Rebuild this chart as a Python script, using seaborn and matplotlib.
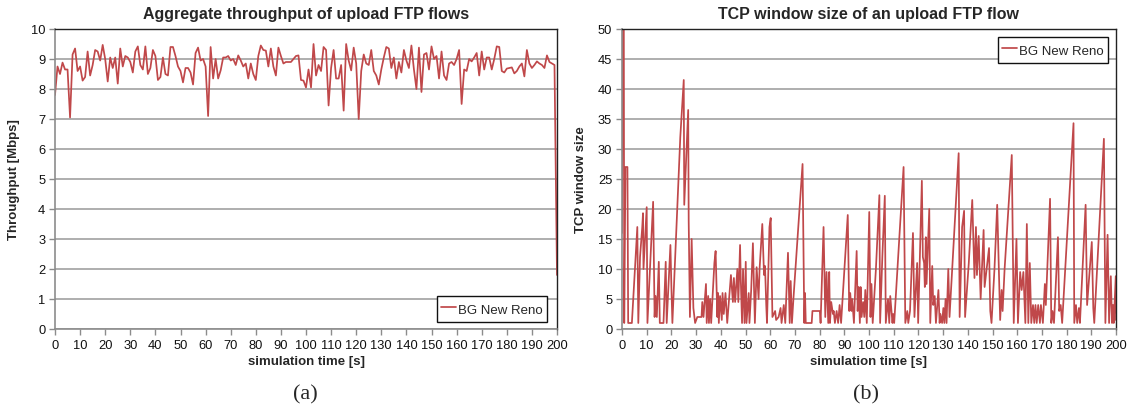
import numpy as np
import pandas as pd
import matplotlib
matplotlib.use("Agg")
import matplotlib.pyplot as plt
import seaborn as sns

# ---------------- data ----------------
series_name = "BG New Reno"

thr_time = list(range(0, 201))
thr_values = [
    7.8, 8.75, 8.5, 8.88, 8.65, 8.65, 7.05, 9.15, 9.35, 8.6,
    8.75, 8.28, 8.4, 9.25, 8.45, 8.8, 9.3, 9.25, 8.95, 9.47,
    9.0, 8.25, 9.05, 8.7, 9.05, 8.18, 9.35, 8.75, 9.1, 9.05,
    8.9, 8.55, 9.25, 9.42, 8.8, 8.65, 9.42, 8.5, 8.7, 9.3,
    9.1, 8.3, 8.4, 9.05, 8.5, 8.45, 9.4, 9.4, 9.1, 8.75,
    8.6, 8.22, 8.7, 8.7, 8.55, 8.15, 9.2, 9.38, 8.95, 9.0,
    8.75, 7.1, 9.4, 8.35, 9.0, 8.35, 8.62, 9.05, 9.05, 9.1,
    8.95, 9.0, 8.8, 9.12, 8.95, 8.75, 8.85, 8.35, 8.85, 8.5,
    8.3, 9.1, 9.45, 9.3, 9.28, 8.75, 9.35, 8.75, 8.45, 9.38,
    9.1, 8.85, 8.9, 8.9, 8.9, 9.0, 9.1, 9.12, 8.3, 8.28,
    8.05, 8.65, 8.05, 9.5, 8.45, 8.8, 8.6, 9.4, 9.3, 7.45,
    8.7, 9.3, 8.35, 8.35, 8.8, 7.28, 9.5, 8.95, 8.62, 9.38,
    8.85, 7.0, 8.6, 9.15, 8.85, 8.8, 9.3, 8.6, 8.45, 8.15,
    8.65, 9.05, 9.4, 9.35, 8.7, 9.05, 8.35, 8.9, 8.55, 9.3,
    8.95, 8.7, 9.45, 8.65, 8.0, 9.38, 7.9, 9.15, 9.2, 8.65,
    9.42, 9.0, 9.1, 8.35, 9.25, 8.45, 8.3, 8.85, 8.9, 8.8,
    9.0, 9.3, 7.5, 8.65, 8.6, 9.0, 8.92, 9.05, 9.2, 8.45,
    9.25, 8.65, 9.05, 9.05, 8.65, 9.0, 9.42, 9.4, 8.6, 8.55,
    8.68, 8.7, 8.72, 8.52, 8.6, 8.75, 8.85, 8.42, 9.3, 8.85,
    8.7, 8.8, 8.92, 8.85, 8.8, 8.7, 9.12, 8.9, 8.85, 8.8,
    1.8,
]

win_time = [
    0.0, 0.3, 0.7, 0.9, 1.4, 2.2, 2.5, 4.0, 6.2, 6.6, 7.3, 8.2, 8.5, 8.7, 10.0, 10.3,
    12.6, 13.2, 13.6, 14.1, 14.9, 15.3, 16.8, 17.7, 18.1, 19.6, 20.0, 20.4, 23.6, 25.0,
    25.2, 26.8, 27.0, 27.5, 28.2, 28.9, 29.6, 30.5, 32.2, 32.5, 33.0, 34.0, 34.3, 34.9,
    35.2, 35.7, 36.1, 37.4, 37.9, 38.6, 38.9, 39.2, 39.7, 40.4, 40.7, 41.2, 41.9, 42.6,
    44.1, 44.9, 45.3, 45.8, 46.7, 47.1, 47.8, 48.1, 48.6, 49.0, 49.6, 50.1, 50.4, 51.3,
    51.6, 52.3, 53.0, 53.8, 54.5, 55.3, 55.7, 56.8, 57.5, 57.9, 58.4, 58.7, 59.7, 60.2,
    60.9, 62.0, 62.4, 63.4, 64.2, 64.6, 65.5, 66.1, 67.2, 67.9, 68.3, 68.8, 69.4, 73.1,
    73.8, 74.1, 74.4, 76.8, 77.1, 80.1, 80.4, 81.6, 82.3, 82.8, 83.5, 83.9, 84.2, 84.7,
    85.4, 85.7, 86.2, 86.9, 87.5, 88.1, 88.7, 91.4, 92.0, 92.4, 92.9, 93.2, 93.9, 95.0,
    95.4, 95.8, 96.3, 96.6, 97.0, 97.6, 98.1, 98.5, 99.1, 100.1, 100.6, 101.0, 101.5, 102.8,
    104.2, 104.5, 105.4, 106.4, 106.8, 107.7, 108.2, 108.6, 109.5, 109.8, 110.2, 114.0, 114.7, 115.5,
    115.9, 116.6, 117.8, 118.4, 119.5, 119.9, 121.4, 121.8, 122.3, 122.6, 123.0, 123.3, 124.4, 124.8,
    125.6, 126.0, 126.6, 127.1, 128.1, 128.6, 128.9, 129.6, 130.1, 130.5, 131.0, 131.4, 132.1, 132.6,
    136.3, 136.7, 137.7, 138.5, 138.9, 140.4, 141.8, 142.7, 143.3, 143.7, 144.4, 145.2, 146.4, 146.8,
    148.6, 149.1, 149.6, 150.8, 151.9, 153.1, 153.7, 154.1, 154.9, 157.8, 158.6, 159.7, 160.3, 161.2,
    161.8, 162.5, 163.3, 163.9, 164.5, 165.1, 165.7, 166.4, 166.9, 167.4, 167.9, 168.5, 169.2, 169.6,
    170.4, 171.2, 171.6, 173.3, 173.8, 174.3, 174.9, 175.4, 176.5, 177.0, 177.6, 178.2, 182.8, 183.1,
    183.8, 184.3, 185.0, 185.4, 187.7, 188.3, 190.2, 190.8, 191.2, 195.1, 195.7, 196.6, 197.2, 197.9,
    198.4, 198.8, 199.1, 199.9, 200.0,
]
win_values = [
    16, 60, 60, 1, 27, 27, 1, 1, 17, 1, 12, 17, 19.3, 10, 20.3, 1,
    21.2, 2, 5.5, 2, 11.2, 1, 1, 11.2, 1, 14, 7, 1, 32, 41.5,
    20.7, 36.5, 18, 2, 15, 3.5, 1, 2, 2, 4.5, 2, 7.5, 1, 5.5,
    1, 5, 1, 11, 13, 2, 6, 1, 5.5, 1.5, 6, 2.5, 6, 1,
    9, 4.5, 8.5, 4.5, 10, 4.5, 14, 8, 1, 10, 1, 11.2, 1, 6,
    1, 6.5, 14.3, 1, 10.3, 5, 10, 17.5, 9, 10.5, 4, 1, 17, 18.5,
    2, 3, 1.5, 2, 3.5, 1, 4, 1, 12.7, 1, 8, 1, 5, 27.5,
    1, 6, 1, 1, 3, 3, 1, 17, 2, 9.5, 1, 9.5, 1, 4.5,
    2.5, 3, 1, 3, 1, 4, 1, 19, 3, 6, 3, 5, 1, 13,
    3, 7, 1, 7, 2, 4.5, 2, 6.5, 1, 19.5, 2, 7.5, 1, 10,
    22.3, 1, 12, 22.2, 1, 5, 1, 5.5, 1, 2.5, 1, 27, 1, 3,
    1, 3, 16, 2, 11, 1, 24.7, 12, 11, 7, 15.3, 7.5, 20, 1,
    10.5, 4, 5.5, 1, 6.5, 1, 2.5, 1, 3.5, 1, 5, 1, 10, 2,
    29.3, 2, 17, 19.7, 2, 11, 21.5, 8.5, 17, 9, 15.5, 5, 16.5, 7,
    13.5, 3, 1, 10, 20.7, 1.5, 6.5, 3, 10, 29, 1, 15, 1, 9.5,
    6.5, 9.5, 1, 17.5, 1, 11, 1, 4, 1, 4, 1, 4, 1, 4,
    1, 7.5, 4, 21.7, 1, 3, 1, 5.5, 15.3, 3, 4, 1, 34.3, 1,
    4, 1, 3.5, 1, 20.7, 4, 14.5, 3.5, 1, 31.7, 1, 15.7, 1, 8.8,
    1, 4, 1, 8.8, 1.5,
]

x_ticks = list(range(0, 201, 10))
left_title = "Aggregate throughput of upload FTP flows"
right_title = "TCP window size of an upload FTP flow"
left_ylabel = "Throughput [Mbps]"
right_ylabel = "TCP window size"
xlabel = "simulation time [s]"

# ---------------- style ----------------
sns.set_style("white")
plt.rcParams["font.family"] = ["Liberation Sans", "DejaVu Sans"]

line_color = "#C0484A"
grid_color = "#A8A8A8"
axis_gray = "#8C8C8C"

fig = plt.figure(figsize=(11.33, 4.14), dpi=100)
ax1 = fig.add_axes([55 / 1133, 84 / 414, 502 / 1133, 300 / 414])
ax2 = fig.add_axes([622 / 1133, 84 / 414, 494 / 1133, 300 / 414])

df1 = pd.DataFrame({"t": thr_time, "v": thr_values})
df2 = pd.DataFrame({"t": win_time, "v": win_values})

sns.lineplot(data=df1, x="t", y="v", ax=ax1, color=line_color, lw=1.25,
             estimator=None, label=series_name)
sns.lineplot(data=df2, x="t", y="v", ax=ax2, color=line_color, lw=1.25,
             estimator=None, label=series_name)


def style(ax, ymax, ystep, title, ylabel, legend_loc, legend_anchor):
    ax.set_xlim(0, 200)
    ax.set_ylim(0, ymax)
    ax.set_xticks(x_ticks)
    ax.set_yticks(np.arange(0, ymax + 0.001, ystep))
    ax.yaxis.grid(True, color=grid_color, lw=1.3)
    ax.xaxis.grid(False)
    ax.set_axisbelow(True)
    ax.tick_params(axis="both", which="major", labelsize=9.3, length=4,
                   width=1, color=axis_gray, direction="out", pad=3,
                   labelcolor="#111111")
    ax.tick_params(axis="x", bottom=True)
    ax.tick_params(axis="y", left=True)
    for s in ["left", "bottom"]:
        ax.spines[s].set_color(axis_gray)
        ax.spines[s].set_linewidth(1.2)
    for s in ["top", "right"]:
        ax.spines[s].set_color("#222222")
        ax.spines[s].set_linewidth(1.0)
    ax.set_title(title, fontsize=11.5, fontweight="bold", pad=8)
    ax.set_ylabel(ylabel, fontsize=9.5, fontweight="bold", labelpad=8)
    ax.set_xlabel(xlabel, fontsize=9.5, fontweight="bold", labelpad=3)
    leg = ax.legend(loc=legend_loc, bbox_to_anchor=legend_anchor,
                    frameon=True, fancybox=False, shadow=False,
                    fontsize=9.5, handlelength=1.2, handletextpad=0.15,
                    handleheight=1.7, borderpad=0.3, borderaxespad=0.0)
    leg.get_frame().set_edgecolor("#111111")
    leg.get_frame().set_linewidth(1.0)
    leg.get_frame().set_alpha(1)


style(ax1, 10, 1, left_title, left_ylabel, "lower right",
      ((547 - 55) / 502, (330 - 323) / 300))
style(ax2, 50, 5, right_title, right_ylabel, "upper right",
      ((1108 - 622) / 494, (330 - 38) / 300))

fig.text(305 / 1133, 1 - 395 / 414, "(a)", ha="center", va="center",
         fontsize=16, family=["Liberation Serif", "DejaVu Serif"])
fig.text(866 / 1133, 1 - 395 / 414, "(b)", ha="center", va="center",
         fontsize=16, family=["Liberation Serif", "DejaVu Serif"])

fig.savefig("out.png", dpi=100, facecolor="white")
